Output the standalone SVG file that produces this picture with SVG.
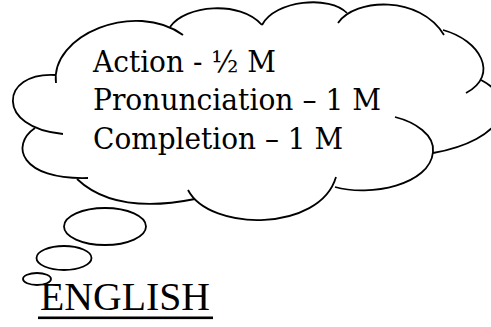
<svg xmlns="http://www.w3.org/2000/svg" width="491" height="327" viewBox="0 0 491 327">
<style>
.ln{fill:none;stroke:#000;stroke-width:1.8;stroke-linecap:butt}
.t{font-family:"DejaVu Serif","Liberation Serif",serif;font-size:29px;fill:#000}
.e{font-family:"Liberation Serif","Times New Roman",serif;font-size:39px;fill:#000}
</style>
<rect width="491" height="327" fill="#fff"/>
<g id="cloud">
<path class="ln" d="M56,83 C50,35 135,0 183,35"/>
<path class="ln" d="M170,27 C185,5 240,0 262,25"/>
<path class="ln" d="M262,25 C275,0 330,-5 347,13"/>
<path class="ln" d="M338,23 C355,-2 420,-5 444,35"/>
<path class="ln" d="M443,30 C480,40 500,75 466,93"/>
<path class="ln" d="M481,80 C520,100 505,140 433,153"/>
<path class="ln" d="M395,117 C415,122 435,135 433,152 C430,185 370,197 335,187"/>
<path class="ln" d="M336,177 C320,232 210,232 188,190"/>
<path class="ln" d="M195,199 Q115,215 77,179"/>
<path class="ln" d="M88,178 C20,180 10,145 35,128"/>
<path class="ln" d="M63,134 C-5,128 0,72 55,75"/>
<text class="t" x="93" y="71.5" textLength="183" lengthAdjust="spacingAndGlyphs">Action - ½ M</text>
<text class="t" x="93" y="110" textLength="288" lengthAdjust="spacingAndGlyphs">Pronunciation – 1 M</text>
<text class="t" x="93" y="149" textLength="250" lengthAdjust="spacingAndGlyphs">Completion – 1 M</text>
</g>
<g id="bubbles">
<ellipse class="ln" cx="105" cy="226.5" rx="41" ry="18.5"/>
<ellipse class="ln" cx="64" cy="258" rx="27.5" ry="12"/>
<ellipse class="ln" cx="37" cy="279" rx="14" ry="6"/>
</g>
<g id="title">
<text class="e" x="40" y="310" textLength="170" lengthAdjust="spacingAndGlyphs">ENGLISH</text>
<rect x="38" y="316.5" width="175" height="2.6" fill="#000"/>
</g>
</svg>
